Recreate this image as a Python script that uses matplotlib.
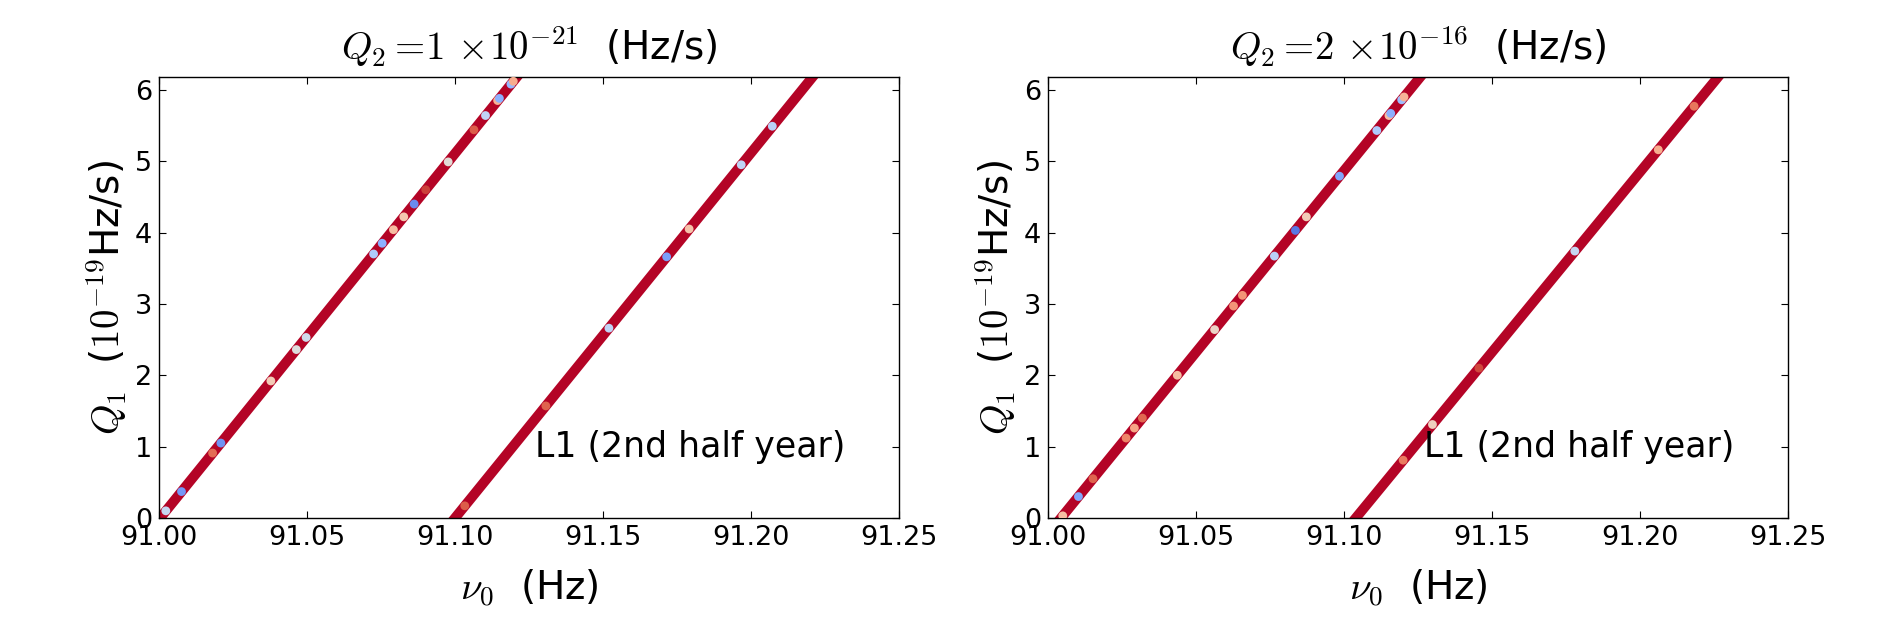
import matplotlib
matplotlib.use("Agg")
import matplotlib.pyplot as plt

plt.rcParams['font.family'] = ['DejaVu Sans']
plt.rcParams['mathtext.fontset'] = 'cm'

# ---- data ----
xticks = [91.00, 91.05, 91.10, 91.15, 91.20, 91.25]
yticks = [0, 1, 2, 3, 4, 5, 6]
xlim = (91.00, 91.25)
ylim = (0.0, 6.18)

titles = [r'$Q_2 =\!1\,\times\!10^{-21}$  (Hz/s)',
          r'$Q_2 =\!2\,\times\!10^{-16}$  (Hz/s)']
annotation = 'L1 (2nd half year)'

# dense bands (endpoints in nu0 / Q1)
left_band1_nu0 = [91.0004, 91.1209]
left_band2_nu0 = [91.1000, 91.2208]
right_band1_nu0 = [91.0044, 91.1258]
right_band2_nu0 = [91.1040, 91.2264]
band_q1 = [0.0, 6.18]

# individual coloured points (nu0, Q1, colour value)
left_nu0 = [91.0023, 91.0076, 91.0181, 91.0209, 91.0378, 91.0464, 91.0497,
            91.0725, 91.0754, 91.0792, 91.0827, 91.0862, 91.0901, 91.0977,
            91.1064, 91.1103, 91.1144, 91.1150, 91.1189, 91.1197,
            91.1033, 91.1307, 91.1520, 91.1715, 91.1791, 91.1967, 91.2072]
left_q1 = [0.10, 0.37, 0.91, 1.05, 1.92, 2.36, 2.53,
           3.70, 3.85, 4.04, 4.22, 4.40, 4.60, 4.99,
           5.44, 5.64, 5.85, 5.88, 6.08, 6.12,
           0.17, 1.57, 2.66, 3.66, 4.05, 4.95, 5.49]
left_c = [0.42, 0.18, 0.85, 0.17, 0.60, 0.50, 0.45,
          0.35, 0.25, 0.65, 0.62, 0.15, 0.93, 0.52,
          0.88, 0.40, 0.68, 0.25, 0.28, 0.70,
          0.88, 0.87, 0.40, 0.20, 0.63, 0.40, 0.38]

right_nu0 = [91.0050, 91.0103, 91.0152, 91.0264, 91.0292, 91.0319, 91.0437,
             91.0563, 91.0627, 91.0657, 91.0765, 91.0836, 91.0873, 91.0985,
             91.1111, 91.1152, 91.1158, 91.1195, 91.1203,
             91.1200, 91.1299, 91.1456, 91.1780, 91.2062, 91.2183]
right_q1 = [0.03, 0.30, 0.55, 1.12, 1.26, 1.40, 2.00,
            2.64, 2.97, 3.12, 3.67, 4.03, 4.22, 4.79,
            5.43, 5.64, 5.67, 5.86, 5.90,
            0.81, 1.31, 2.10, 3.74, 5.16, 5.77]
right_c = [0.65, 0.22, 0.87, 0.80, 0.72, 0.86, 0.65,
           0.56, 0.76, 0.76, 0.38, 0.10, 0.60, 0.22,
           0.35, 0.65, 0.25, 0.30, 0.68,
           0.82, 0.58, 0.92, 0.42, 0.70, 0.83]

# ---- figure ----
fig = plt.figure(figsize=(18.93, 6.39), dpi=100)
ax1 = fig.add_axes([0.0840, 0.1894, 0.3909, 0.6901])
ax2 = fig.add_axes([0.5536, 0.1894, 0.3909, 0.6901])

cmap = matplotlib.colormaps['coolwarm']
band_color = cmap(1.0)

panels = [
    (ax1, [left_band1_nu0, left_band2_nu0], left_nu0, left_q1, left_c, titles[0]),
    (ax2, [right_band1_nu0, right_band2_nu0], right_nu0, right_q1, right_c, titles[1]),
]

for ax, bands, nx, ny, nc, title in panels:
    for b in bands:
        ax.plot(b, band_q1, color=band_color, lw=7.2, solid_capstyle='projecting', zorder=2)
    ax.scatter(nx, ny, c=nc, cmap=cmap, vmin=0, vmax=1, s=40,
               linewidths=0, zorder=3)
    ax.set_xlim(*xlim)
    ax.set_ylim(*ylim)
    ax.set_xticks(xticks)
    ax.set_xticklabels(['%.2f' % t for t in xticks])
    ax.set_yticks(yticks)
    ax.tick_params(direction='in', top=True, right=True, length=5, width=0.8,
                   labelsize=19.5, pad=5)
    for sp in ax.spines.values():
        sp.set_linewidth(1.0)
    ax.set_title(title, fontsize=28, pad=12)
    ax.set_xlabel(r'$\nu_0$  (Hz)', fontsize=28, labelpad=12)
    ax.set_ylabel(r'$Q_1$  ($10^{-19}$Hz/s)', fontsize=28, labelpad=4)
    ax.text(91.127, 0.86, annotation, fontsize=25, zorder=4)

fig.savefig('out.png', dpi=100)
